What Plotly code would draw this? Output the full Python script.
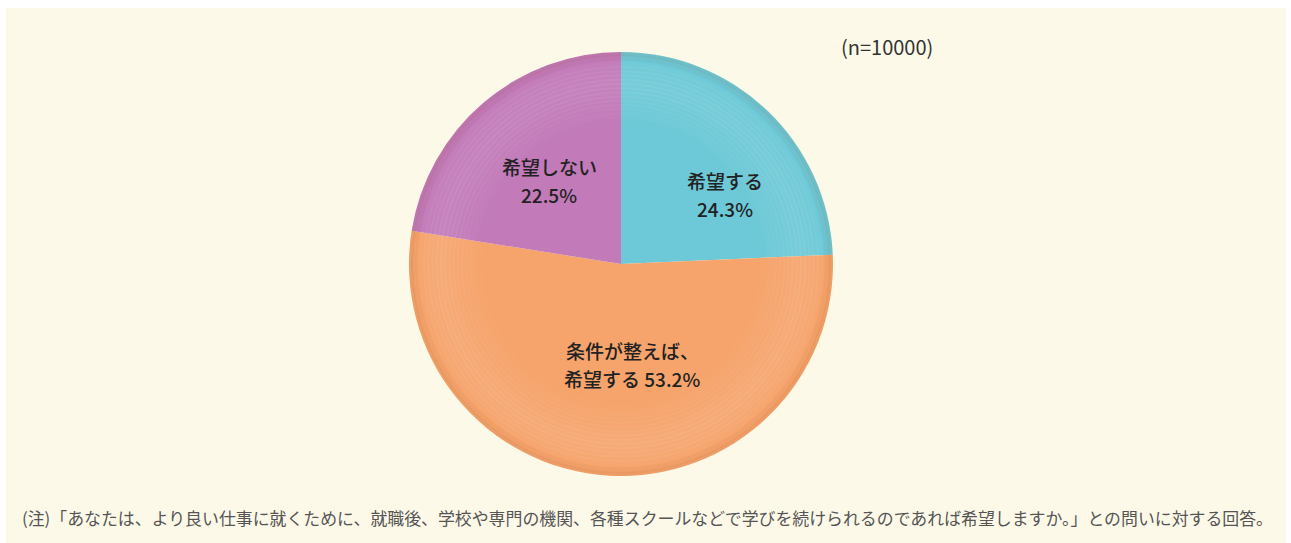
import plotly.graph_objects as go

# Survey answers (n=10000), clockwise from 12 o'clock
labels = ["希望する", "条件が整えば、|希望する", "希望しない"]
values = [24.3, 53.2, 22.5]
colors = ["#6DC9D7", "#F6A46C", "#C27AB9"]
sample_note = "(n=10000)"
footnote = ("(注)「あなたは、より良い仕事に就くために、就職後、学校や専門の機関、各種スクールなどで"
            "学びを続けられるのであれば希望しますか。」との問いに対する回答。")

W, H = 1291, 543
cx, cy, r = 621, 264, 212          # pie centre / radius in pixels


def px(x):
    return x / W


def py(y):
    return (H - y) / H


fig = go.Figure()
fig.add_trace(go.Pie(
    labels=[lab.replace("|", "") for lab in labels],
    values=values,
    sort=False,
    direction="clockwise",
    rotation=0,
    marker=dict(colors=colors, line=dict(width=0)),
    textinfo="none",
    hoverinfo="label+percent",
    showlegend=False,
    domain=dict(x=[px(cx - r), px(cx + r)], y=[py(cy + r), py(cy - r)]),
))

shapes = [
    # cream panel behind the chart
    dict(type="rect", xref="paper", yref="paper", x0=px(6), x1=px(1286), y0=0, y1=py(8),
         fillcolor="#FDF9E8", line=dict(width=0), layer="below"),
]


def ring(f, rgba, w):
    rr = r * f
    return dict(type="circle", xref="paper", yref="paper",
                x0=px(cx - rr), x1=px(cx + rr), y0=py(cy + rr), y1=py(cy - rr),
                line=dict(color=rgba, width=w), layer="above")


# soft light ring near the rim of the pie (many thin, faint strokes)
glow = [0.64, 0.67, 0.70, 0.72, 0.74, 0.76, 0.78, 0.80, 0.82, 0.84, 0.86, 0.88, 0.90, 0.92, 0.94]
peak = 0.85
for f in glow:
    op = max(0.0, 0.07 * (1 - abs(f - peak) / 0.22))
    shapes.append(ring(f, f"rgba(255,255,255,{op:.3f})", 6))
# slightly darker outer edge
shapes.append(ring(0.975, "rgba(140,70,30,0.05)", 6))
shapes.append(ring(0.99, "rgba(140,70,30,0.07)", 4))

label_font = dict(family="Noto Sans CJK JP", size=19, color="#222222", weight=500)
# centre of each two-line slice label, and spacing between its lines
label_pos = [(725, 194), (632, 364), (549, 180)]
line_gap = 28

annotations = []
for lab, val, (x, y) in zip(labels, values, label_pos):
    if "|" in lab:
        first, second = lab.split("|")
        lines = [first, f"{second} {val:.1f}%"]
    else:
        lines = [lab, f"{val:.1f}%"]
    for i, line in enumerate(lines):
        yy = y + (i - 0.5) * line_gap
        annotations.append(dict(x=px(x), y=py(yy), xref="paper", yref="paper", text=line,
                                xanchor="center", yanchor="middle",
                                showarrow=False, font=label_font))

annotations.append(dict(x=px(887), y=py(46), xref="paper", yref="paper", text=sample_note,
                        xanchor="center", yanchor="middle", showarrow=False,
                        font=dict(family="Noto Sans CJK JP", size=20, color="#333333")))
annotations.append(dict(x=px(20), y=py(517), xref="paper", yref="paper", text=footnote,
                        xanchor="left", yanchor="middle", showarrow=False,
                        font=dict(family="Noto Sans CJK JP", size=16.9, color="#555555")))

fig.update_layout(
    width=W, height=H,
    margin=dict(l=0, r=0, t=0, b=0),
    paper_bgcolor="#FFFFFF",
    plot_bgcolor="#FFFFFF",
    shapes=shapes,
    annotations=annotations,
)

fig.write_html("out.html")
